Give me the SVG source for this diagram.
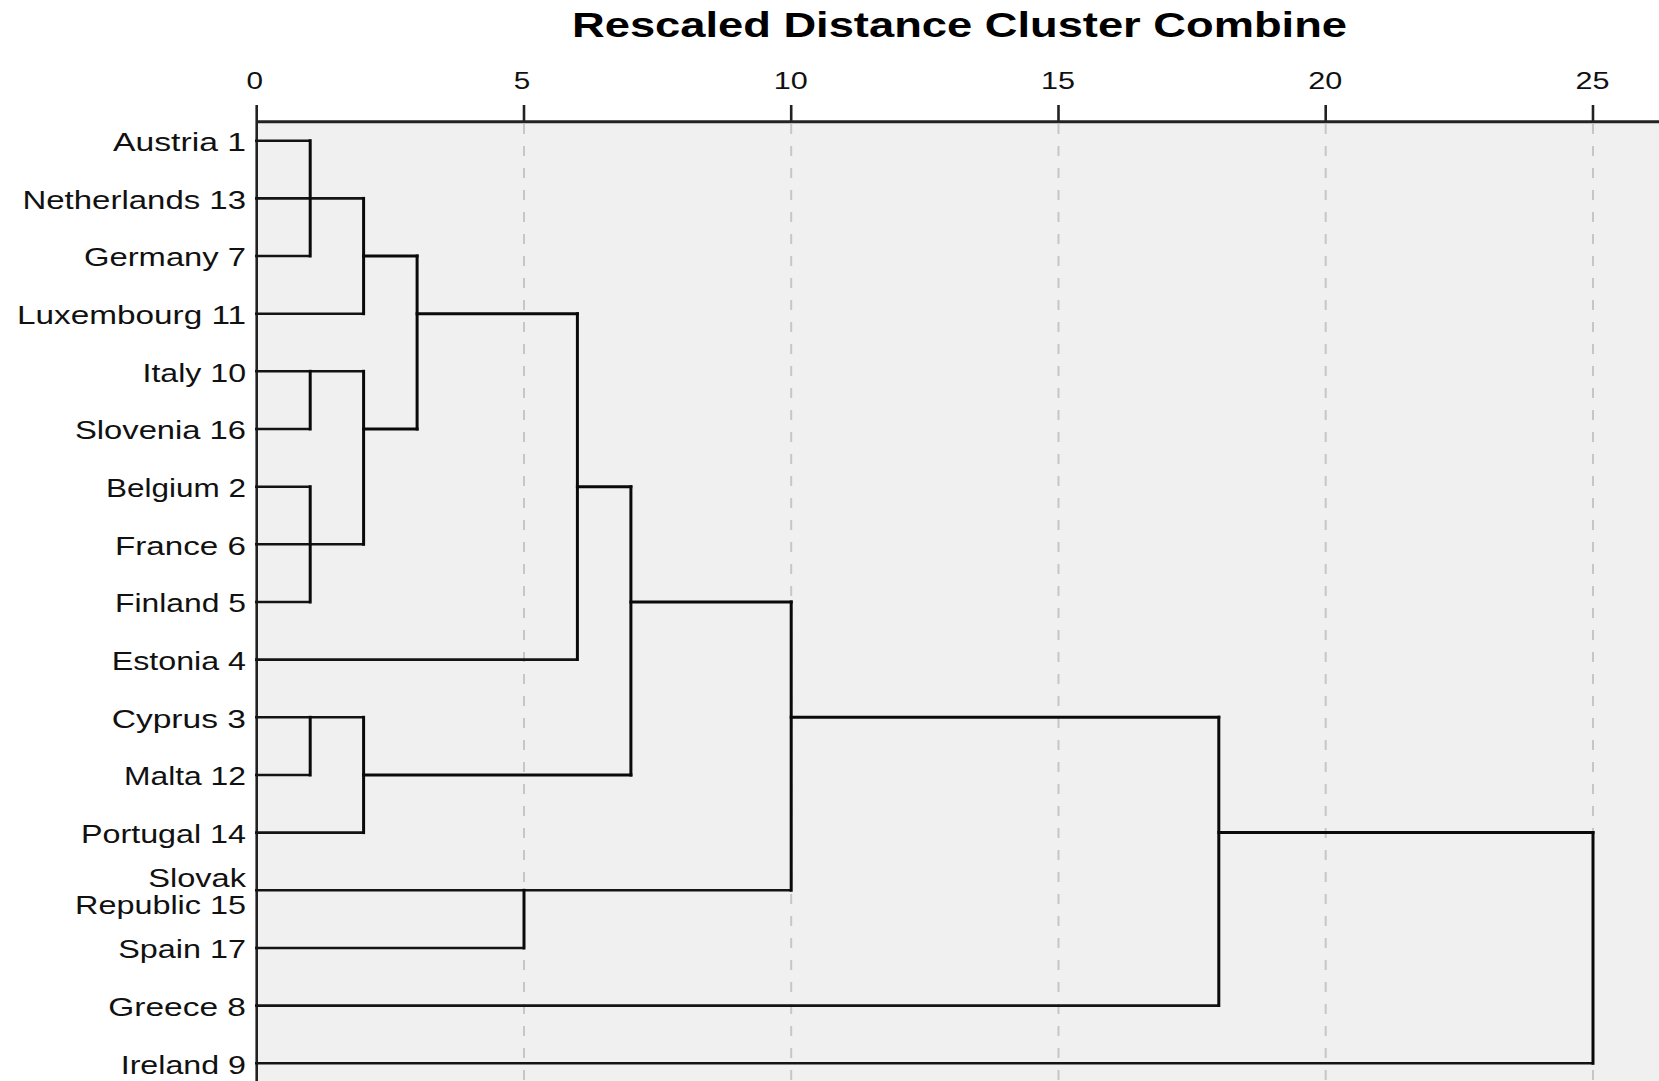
<svg xmlns="http://www.w3.org/2000/svg" width="1659" height="1081" viewBox="0 0 1659 1081">
<style>
.lbl{font-family:"Liberation Sans",Arial,sans-serif;font-size:26px;fill:#111}
.tick{font-family:"Liberation Sans",Arial,sans-serif;font-size:24.5px;fill:#111}
.title{font-family:"Liberation Sans",Arial,sans-serif;font-size:35.5px;font-weight:bold;fill:#000}
.grid{stroke:#c6c6c6;stroke-width:2;stroke-dasharray:10 12;fill:none}
.leaf{stroke:#141414;stroke-width:2.6;fill:none}
.br{stroke:#0a0a0a;stroke-width:3;fill:none;stroke-linecap:square}
</style>
<rect x="0" y="0" width="1659" height="1081" fill="#ffffff"/>
<rect id="plot-area" x="256.7" y="122" width="1402.3" height="959" fill="#f0f0f0"/>
<g id="gridlines">
<line class="grid" x1="524" y1="124" x2="524" y2="1081"/>
<line class="grid" x1="791.2" y1="124" x2="791.2" y2="1081"/>
<line class="grid" x1="1058.5" y1="124" x2="1058.5" y2="1081"/>
<line class="grid" x1="1325.7" y1="124" x2="1325.7" y2="1081"/>
<line class="grid" x1="1593" y1="124" x2="1593" y2="1081"/>
</g>
<g id="axis">
<line x1="256.7" y1="121.7" x2="1659" y2="121.7" stroke="#222" stroke-width="3"/>
<line x1="256.7" y1="105" x2="256.7" y2="1081" stroke="#222" stroke-width="2.6"/>
<g stroke="#222" stroke-width="2.6">
<line x1="524" y1="105" x2="524" y2="122"/>
<line x1="791.2" y1="105" x2="791.2" y2="122"/>
<line x1="1058.5" y1="105" x2="1058.5" y2="122"/>
<line x1="1325.7" y1="105" x2="1325.7" y2="122"/>
<line x1="1593" y1="105" x2="1593" y2="122"/>
</g>
<text class="tick" x="246.5" y="89.3" textLength="16.5" lengthAdjust="spacingAndGlyphs">0</text>
<text class="tick" x="513.8" y="89.3" textLength="16.5" lengthAdjust="spacingAndGlyphs">5</text>
<text class="tick" x="773.7" y="89.3" textLength="34" lengthAdjust="spacingAndGlyphs">10</text>
<text class="tick" x="1041" y="89.3" textLength="34" lengthAdjust="spacingAndGlyphs">15</text>
<text class="tick" x="1308.2" y="89.3" textLength="34" lengthAdjust="spacingAndGlyphs">20</text>
<text class="tick" x="1575.5" y="89.3" textLength="34" lengthAdjust="spacingAndGlyphs">25</text>
</g>
<text id="title" class="title" x="572" y="37.3" textLength="775" lengthAdjust="spacingAndGlyphs">Rescaled Distance Cluster Combine</text>
<g id="node-austria"><text class="lbl" x="113" y="151" textLength="133" lengthAdjust="spacingAndGlyphs">Austria 1</text></g>
<g id="node-netherlands"><text class="lbl" x="22.5" y="208.8" textLength="223.5" lengthAdjust="spacingAndGlyphs">Netherlands 13</text></g>
<g id="node-germany"><text class="lbl" x="84" y="266.4" textLength="162" lengthAdjust="spacingAndGlyphs">Germany 7</text></g>
<g id="node-luxembourg"><text class="lbl" x="17" y="324" textLength="229" lengthAdjust="spacingAndGlyphs">Luxembourg 11</text></g>
<g id="node-italy"><text class="lbl" x="142.5" y="381.6" textLength="103.5" lengthAdjust="spacingAndGlyphs">Italy 10</text></g>
<g id="node-slovenia"><text class="lbl" x="75" y="439.3" textLength="171" lengthAdjust="spacingAndGlyphs">Slovenia 16</text></g>
<g id="node-belgium"><text class="lbl" x="106" y="497" textLength="140" lengthAdjust="spacingAndGlyphs">Belgium 2</text></g>
<g id="node-france"><text class="lbl" x="115" y="554.6" textLength="131" lengthAdjust="spacingAndGlyphs">France 6</text></g>
<g id="node-finland"><text class="lbl" x="115" y="612.3" textLength="131" lengthAdjust="spacingAndGlyphs">Finland 5</text></g>
<g id="node-estonia"><text class="lbl" x="111.7" y="669.9" textLength="134.3" lengthAdjust="spacingAndGlyphs">Estonia 4</text></g>
<g id="node-cyprus"><text class="lbl" x="111.7" y="727.6" textLength="134.3" lengthAdjust="spacingAndGlyphs">Cyprus 3</text></g>
<g id="node-malta"><text class="lbl" x="124" y="785.3" textLength="122" lengthAdjust="spacingAndGlyphs">Malta 12</text></g>
<g id="node-portugal"><text class="lbl" x="81" y="842.9" textLength="165" lengthAdjust="spacingAndGlyphs">Portugal 14</text></g>
<g id="node-slovak-republic"><text class="lbl" x="148.3" y="887" textLength="97.7" lengthAdjust="spacingAndGlyphs">Slovak</text><text class="lbl" x="75" y="914.3" textLength="171" lengthAdjust="spacingAndGlyphs">Republic 15</text></g>
<g id="node-spain"><text class="lbl" x="118.3" y="958.3" textLength="127.7" lengthAdjust="spacingAndGlyphs">Spain 17</text></g>
<g id="node-greece"><text class="lbl" x="108.3" y="1015.9" textLength="137.7" lengthAdjust="spacingAndGlyphs">Greece 8</text></g>
<g id="node-ireland"><text class="lbl" x="120.7" y="1073.6" textLength="125.3" lengthAdjust="spacingAndGlyphs">Ireland 9</text></g>
<g id="connectors">
<g class="leaf">
<path d="M255,140.7H310.2"/>
<path d="M255,256H310.2"/>
<path d="M255,198.4H363.6"/>
<path d="M255,313.7H363.6"/>
<path d="M255,371.3H363.6"/>
<path d="M255,429H310.2"/>
<path d="M255,486.7H310.2"/>
<path d="M255,544.3H363.6"/>
<path d="M255,602H310.2"/>
<path d="M255,659.6H577.4"/>
<path d="M255,717.3H363.6"/>
<path d="M255,775H310.2"/>
<path d="M255,832.6H363.6"/>
<path d="M255,890.3H791.2"/>
<path d="M255,948H524"/>
<path d="M255,1005.6H1218.8"/>
<path d="M255,1063.3H1593"/>
</g>
<g class="br">
<path d="M310.2,140.7V256"/>
<path d="M363.6,198.4V313.7"/>
<path d="M363.6,256H417.1"/>
<path d="M310.2,371.3V429"/>
<path d="M310.2,486.7V602"/>
<path d="M363.6,371.3V544.3"/>
<path d="M363.6,429H417.1"/>
<path d="M417.1,256V429"/>
<path d="M417.1,313.7H577.4"/>
<path d="M577.4,313.7V659.6"/>
<path d="M577.4,486.7H630.9"/>
<path d="M310.2,717.3V775"/>
<path d="M363.6,717.3V832.6"/>
<path d="M363.6,775H630.9"/>
<path d="M630.9,486.7V775"/>
<path d="M630.9,602H791.2"/>
<path d="M524,890.3V948"/>
<path d="M791.2,602V890.3"/>
<path d="M791.2,717.3H1218.8"/>
<path d="M1218.8,717.3V1005.6"/>
<path d="M1218.8,832.6H1593"/>
<path d="M1593,832.6V1063.3"/>
</g>
</g>
</svg>
